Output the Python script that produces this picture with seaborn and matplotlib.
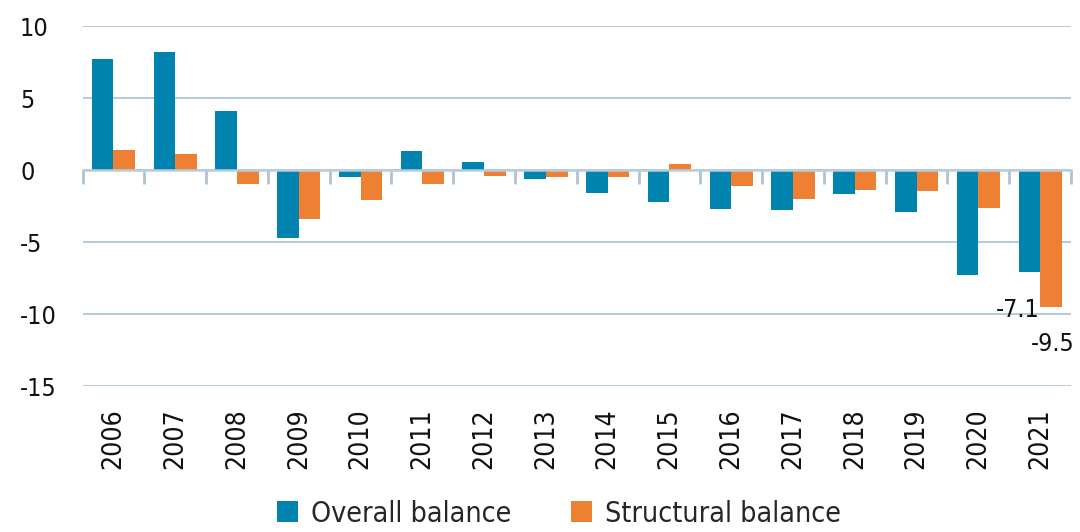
import matplotlib
matplotlib.use("Agg")
import matplotlib.pyplot as plt
import seaborn as sns
import pandas as pd

years = ["2006", "2007", "2008", "2009", "2010", "2011", "2012", "2013",
         "2014", "2015", "2016", "2017", "2018", "2019", "2020", "2021"]
overall = [7.7, 8.2, 4.1, -4.7, -0.5, 1.3, 0.55, -0.6, -1.6, -2.2, -2.7, -2.8, -1.7, -2.9, -7.3, -7.1]
structural = [1.4, 1.1, -1.0, -3.4, -2.1, -1.0, -0.4, -0.5, -0.5, 0.45, -1.1, -2.0, -1.4, -1.45, -2.65, -9.5]
series_names = ["Overall balance", "Structural balance"]
colors = ["#0083AE", "#EE8033"]
yticks = [10, 5, 0, -5, -10, -15]

df = pd.DataFrame({
    "year": years * 2,
    "value": overall + structural,
    "series": [series_names[0]] * len(years) + [series_names[1]] * len(years),
})

sns.set_theme(style="white")
plt.rcParams["font.family"] = ["DejaVu Sans"]
plt.rcParams["font.stretch"] = "condensed"

fig = plt.figure(figsize=(10.8, 5.32), dpi=100)
ax = fig.add_axes([0.0764, 0.2744, 0.9153, 0.6767])
grid_c = "#B9CCDA"

sns.barplot(data=df, x="year", y="value", hue="series", palette=colors,
            width=0.70, saturation=1, ax=ax, linewidth=0, legend=True, zorder=3)

ax.set_ylim(-15, 10)
ax.set_xlim(-0.5, len(years) - 0.5)
ax.set_yticks(yticks)
ax.set_yticklabels([str(v) for v in yticks], fontsize=18, color="#111111")
ax.yaxis.grid(True, color=grid_c, linewidth=1.5, zorder=0)
ax.set_axisbelow(True)
for s in ax.spines.values():
    s.set_visible(False)
ax.tick_params(axis="y", length=0, pad=45)
for lab in ax.get_yticklabels():
    lab.set_horizontalalignment("left")
ax.tick_params(axis="x", length=0, pad=16, labelsize=19, labelrotation=90, labelcolor="#111111")
ax.set_xlabel("")
ax.set_ylabel("")

# zero line axis with boundary ticks
sec = ax.secondary_xaxis(0.6)
sec.set_zorder(4)
for s in sec.spines.values():
    s.set_color(grid_c)
    s.set_linewidth(1.8)
sec.set_xticks([i - 0.5 for i in range(len(years) + 1)])
sec.set_xticklabels([])
sec.tick_params(axis="x", which="major", direction="in", length=10, width=2.0, color="#AFC3D3")

# value labels for 2021
b_over = ax.containers[0][len(years) - 1]
b_str = ax.containers[1][len(years) - 1]
ax.annotate(f"{overall[-1]:.1f}", (b_over.get_x() + b_over.get_width() / 2, overall[-1]),
            xytext=(-8, -27), textcoords="offset points", ha="center", va="center",
            fontsize=18, color="#111111")
ax.annotate(f"{structural[-1]:.1f}", (b_str.get_x() + b_str.get_width() / 2, structural[-1]),
            xytext=(1, -27), textcoords="offset points", ha="center", va="center",
            fontsize=18, color="#111111")

handles, labels = ax.get_legend_handles_labels()
ax.get_legend().remove()
fig.legend(handles, labels, loc="lower center", bbox_to_anchor=(0.5176, -0.04), ncol=2,
           frameon=False, fontsize=20.5, handlelength=0.75, handleheight=0.75,
           handletextpad=0.45, columnspacing=2.1)

fig.savefig("out.png", dpi=100)
